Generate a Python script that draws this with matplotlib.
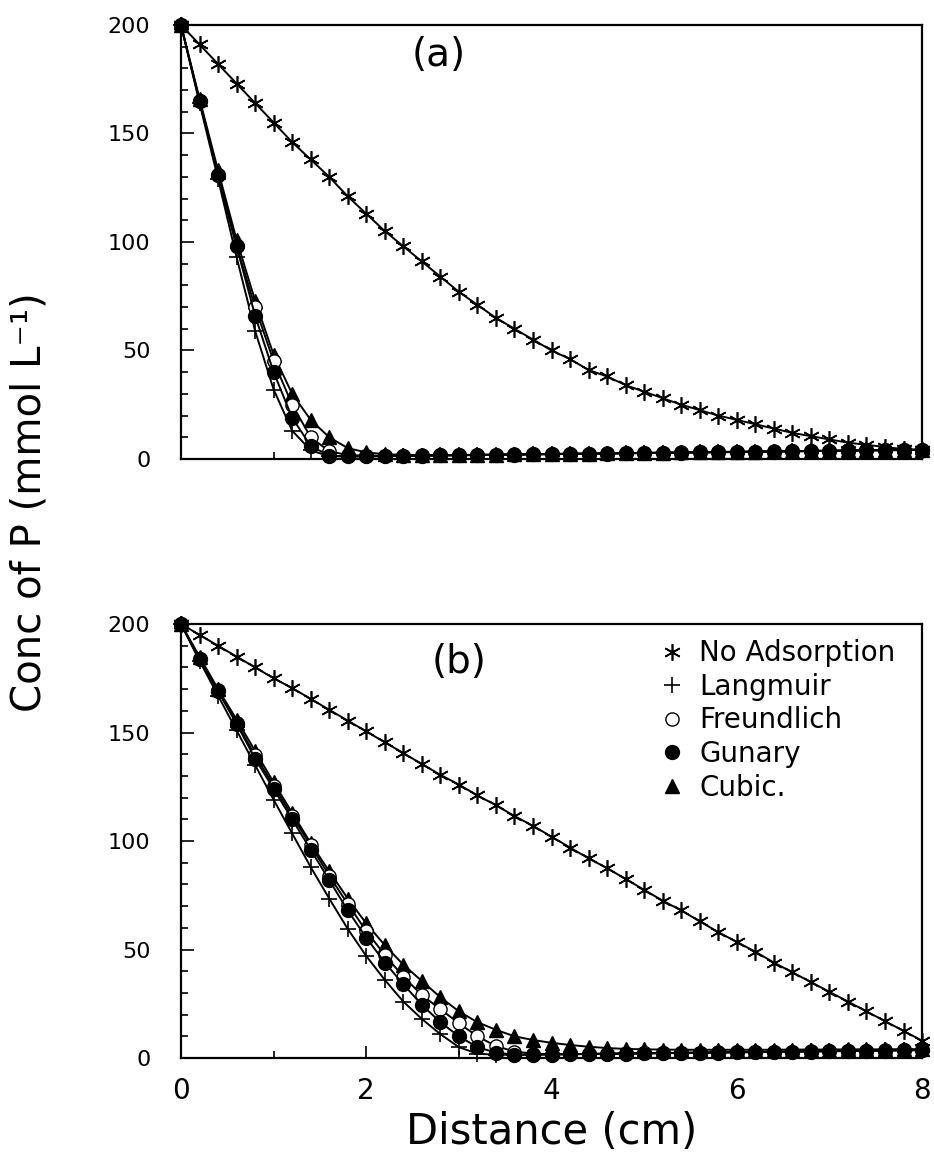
import numpy as np
import matplotlib
matplotlib.use("Agg")
import matplotlib.pyplot as plt
from matplotlib.lines import Line2D
from matplotlib.ticker import MultipleLocator

# distance grid (cm)
dist = [0.0, 0.2, 0.4, 0.6, 0.8, 1.0, 1.2, 1.4, 1.6, 1.8, 2.0, 2.2, 2.4, 2.6,
        2.8, 3.0, 3.2, 3.4, 3.6, 3.8, 4.0, 4.2, 4.4, 4.6, 4.8, 5.0, 5.2, 5.4,
        5.6, 5.8, 6.0, 6.2, 6.4, 6.6, 6.8, 7.0, 7.2, 7.4, 7.6, 7.8, 8.0]

# (a)
noads_a = [200, 191, 182, 173, 164, 155, 146, 138, 130, 121, 113, 105, 98, 91,
           84, 77, 71, 65, 60, 55, 50, 46, 41, 38, 34, 31, 28, 25, 22.5, 20,
           18, 16, 14, 12, 10.5, 9, 7.5, 6.5, 5.5, 4.5, 4]
langmuir_a = [200, 164, 129, 93, 59, 32, 13, 4, 1.2,
              1.2, 1.2, 1.3, 1.4, 1.5, 1.6, 1.7, 1.8, 1.9, 2.0, 2.1, 2.2, 2.3,
              2.4, 2.5, 2.6, 2.7, 2.8, 2.9, 3.0, 3.1, 3.2, 3.3, 3.4, 3.5, 3.6,
              3.7, 3.8, 3.9, 4.0, 4.1, 4.2]
freundlich_a = [200, 165, 131, 98, 70, 45, 25, 10, 3.5,
                1.8, 1.5, 1.5, 1.5, 1.6, 1.7, 1.8, 1.9, 2.0, 2.1, 2.2, 2.3,
                2.4, 2.5, 2.6, 2.7, 2.8, 2.9, 3.0, 3.1, 3.2, 3.3, 3.4, 3.5,
                3.6, 3.7, 3.8, 3.9, 4.0, 4.1, 4.2, 4.3]
gunary_a = [200, 165, 131, 98, 66, 40, 19, 6, 1.5,
            1.2, 1.2, 1.3, 1.4, 1.5, 1.6, 1.7, 1.8, 1.9, 2.0, 2.1, 2.2, 2.3,
            2.4, 2.5, 2.6, 2.7, 2.8, 2.9, 3.0, 3.1, 3.2, 3.3, 3.4, 3.5, 3.6,
            3.7, 3.8, 3.9, 4.0, 4.1, 4.2]
cubic_a = [200, 166, 133, 101, 73, 48, 30, 18, 10, 5.0,
           3.0, 2.2, 1.9, 1.8, 1.8, 1.8, 1.9, 2.0, 2.1, 2.2, 2.3, 2.4, 2.5,
           2.6, 2.7, 2.8, 2.9, 3.0, 3.1, 3.2, 3.3, 3.4, 3.5, 3.6, 3.7, 3.8,
           3.9, 4.0, 4.1, 4.2, 4.3]

# (b)
noads_b = [200, 195, 190, 185, 180, 175, 170.5, 165.5, 160.5, 155.5, 150.5,
           145.5, 140.5, 135.5, 130.5, 126, 121, 116.5, 111.5, 107, 102, 97,
           92, 87.5, 82.5, 77.5, 72.5, 68, 63, 58, 53.5, 49, 44, 39.5, 35,
           30.5, 26, 21.5, 17, 12.5, 8]
langmuir_b = [200, 183, 167, 151, 135, 119, 103.5, 88, 73.5, 59.5, 47, 36,
              26, 18, 11, 5, 2, 1.5,
              1.5, 1.6, 1.7, 1.8, 1.9, 2.0, 2.1, 2.2, 2.3, 2.4, 2.5, 2.6, 2.7,
              2.8, 2.9, 3.0, 3.1, 3.2, 3.3, 3.4, 3.5, 3.6, 3.7]
freundlich_b = [200, 184, 169.5, 154.5, 139.5, 125.5, 111.5, 98, 84, 71,
                58.5, 47.5, 37.5, 29, 22.5, 16, 10, 5.5, 3, 2,
                1.8, 1.8, 1.9, 2.0, 2.1, 2.2, 2.3, 2.4, 2.5, 2.6, 2.7, 2.8,
                2.9, 3.0, 3.1, 3.2, 3.3, 3.4, 3.5, 3.6, 3.7]
gunary_b = [200, 184, 169, 154, 138, 124, 110, 96, 82, 68, 55.5, 44, 34,
            24.5, 16.5, 10, 5, 2.5, 1.5, 1.5,
            1.6, 1.7, 1.8, 1.9, 2.0, 2.1, 2.2, 2.3, 2.4, 2.5, 2.6, 2.7, 2.8,
            2.9, 3.0, 3.1, 3.2, 3.3, 3.4, 3.5, 3.6]
cubic_b = [200, 185, 170, 156, 141.5, 127, 113, 99, 86, 73.5, 62, 52, 43,
           35.5, 28, 21.5, 16.5, 13, 10, 8.3, 7, 6, 5.2, 4.6, 4.2, 4.0,
           3.9, 3.8, 3.8, 3.8, 3.8, 3.8, 3.8, 3.9, 3.9, 3.9, 4.0, 4.0, 4.0,
           4.1, 4.1]

labels = ["No Adsorption", "Langmuir", "Freundlich", "Gunary", "Cubic."]

star = (6, 2, 0)

styles = {
    "No Adsorption": dict(marker=star, ms=12, mew=1.2, mfc="black"),
    "Langmuir": dict(marker="+", ms=12, mew=1.2),
    "Freundlich": dict(marker="o", ms=9.5, mfc="white", mew=1.0),
    "Gunary": dict(marker="o", ms=10, mfc="black"),
    "Cubic.": dict(marker="^", ms=10, mfc="black"),
}

fig = plt.figure(figsize=(9.34, 11.61), dpi=100)
ax_a = fig.add_axes([0.1938, 0.6047, 0.7934, 0.3738])
ax_b = fig.add_axes([0.1938, 0.0887, 0.7934, 0.3738])

panels = [
    (ax_a, "(a)", 0.348, 0.93, {"No Adsorption": noads_a, "Langmuir": langmuir_a,
                                "Freundlich": freundlich_a, "Gunary": gunary_a,
                                "Cubic.": cubic_a}),
    (ax_b, "(b)", 0.375, 0.912, {"No Adsorption": noads_b, "Langmuir": langmuir_b,
                                 "Freundlich": freundlich_b, "Gunary": gunary_b,
                                 "Cubic.": cubic_b}),
]

draw_order = ["No Adsorption", "Cubic.", "Langmuir", "Freundlich", "Gunary"]

for ax, tag, tx, ty, series in panels:
    for name in draw_order:
        ax.plot(dist, series[name], color="black", lw=1.4, mec="black",
                clip_on=False, **styles[name])
    ax.set_xlim(0, 8)
    ax.set_ylim(0, 200)
    ax.xaxis.set_major_locator(MultipleLocator(2))
    ax.xaxis.set_minor_locator(MultipleLocator(1))
    ax.yaxis.set_major_locator(MultipleLocator(50))
    ax.yaxis.set_minor_locator(MultipleLocator(10))
    ax.tick_params(which="both", direction="in", top=False, right=False,
                   width=1.2)
    ax.tick_params(which="major", length=9)
    ax.tick_params(which="minor", length=5)
    ax.tick_params(axis="y", labelsize=16, pad=22)
    ax.tick_params(axis="x", labelsize=20, pad=14)
    for sp in ax.spines.values():
        sp.set_linewidth(1.6)
    ax.text(tx, ty, tag, transform=ax.transAxes, fontsize=28,
            ha="center", va="center")

ax_a.tick_params(axis="x", labelbottom=False)

handles = [Line2D([], [], color="black", linestyle="none", **styles[n])
           for n in labels]
ax_b.legend(handles, labels, loc="upper right", bbox_to_anchor=(0.985, 1.0),
            frameon=False, fontsize=20, handlelength=1.0, handletextpad=0.5,
            labelspacing=0.2, borderaxespad=0.15)

ax_b.set_xlabel("Distance (cm)", fontsize=30, labelpad=4)
fig.text(0.032, 1 - 502 / 1161, "Conc of P (mmol L\u207b\u00b9)", rotation=90,
         fontsize=29, ha="center", va="center")

fig.savefig("out.png", dpi=100)
